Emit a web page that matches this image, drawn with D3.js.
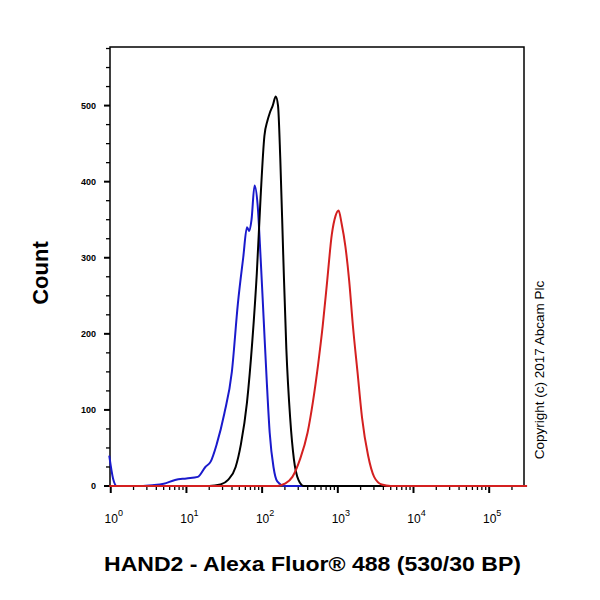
<!DOCTYPE html><html><head><script src="https://cdn.jsdelivr.net/npm/d3@7"></script>
<style>body{margin:0;background:#fff}</style></head><body><svg id="c" width="600" height="600"></svg><script>
// log10 intensity positions and counts
const blueX=[-0.02,0.03,0.08,0.2,0.4,0.55,0.7,0.85,1.0,1.15,1.25,1.32,1.4,1.5,1.6,1.68,1.75,1.8,1.83,1.86,1.9,1.94,1.98,2.02,2.06,2.1,2.15,2.2,2.3,2.6,5.5];
const blueY=[40,10,0,0,0,1,3,8,10,12,25,32,55,95,150,240,300,340,335,350,395,370,300,220,140,70,25,6,0,0,0];
const blackX=[-0.02,1.3,1.45,1.55,1.65,1.72,1.8,1.87,1.93,1.98,2.03,2.07,2.1,2.14,2.18,2.21,2.24,2.28,2.32,2.37,2.42,2.48,2.55,5.5];
const blackY=[0,0,2,8,25,55,110,190,280,380,460,480,490,500,512,500,430,300,180,90,35,8,0,0];
const redX=[-0.02,2.2,2.3,2.4,2.5,2.6,2.67,2.74,2.8,2.86,2.92,2.97,3.01,3.05,3.1,3.15,3.2,3.26,3.32,3.4,3.48,3.58,3.7,5.5];
const redY=[0,0,3,12,35,70,110,160,210,270,330,355,362,345,315,270,210,150,90,40,12,2,0,0];
const yTicks=[0,100,200,300,400,500];
const xExp=[0,1,2,3,4,5];
const svg=d3.select("#c");
const L=110,R=524,T=47,B=486;
const x=d3.scaleLinear().domain([-0.01,5.46]).range([L,R]);
const y=d3.scaleLinear().domain([0,577]).range([B,T]);
svg.append("rect").attr("x",L).attr("y",T).attr("width",R-L).attr("height",B-T).attr("fill","none").attr("stroke","#000").attr("stroke-width",1.5);
const g=svg.append("g");
d3.range(0,576,25).forEach(v=>{const maj=v%100===0;g.append("line").attr("x1",L-(maj?6:4)).attr("x2",L).attr("y1",y(v)).attr("y2",y(v)).attr("stroke","#000").attr("stroke-width",maj?2:1.3);});
yTicks.forEach(v=>g.append("text").attr("x",L-14).attr("y",y(v)+3).attr("text-anchor","end").attr("font-family","Arial, Liberation Sans").attr("font-weight","bold").attr("font-size",9).text(v));
for(let e=0;e<=5;e++){for(let m=1;m<=9;m++){const lv=e+Math.log10(m);if(lv>5.46)continue;const maj=m===1;g.append("line").attr("x1",x(lv)).attr("x2",x(lv)).attr("y1",B).attr("y2",B+(maj?7:4)).attr("stroke","#000").attr("stroke-width",maj?2:1.3);}}
xExp.forEach(e=>{const t=g.append("text").attr("x",x(e)+3).attr("y",B+37).attr("text-anchor","middle").attr("font-family","Arial, Liberation Sans").attr("font-size",12);t.append("tspan").text("10");t.append("tspan").attr("dy",-7).attr("font-size",9).text(e);});
const line=d3.line().x(d=>x(d[0])).y(d=>y(d[1])).curve(d3.curveMonotoneX);
[[blueX,blueY,"#1a1acc"],[blackX,blackY,"#000"],[redX,redY,"#d42020"]].forEach(([X,Y,c])=>{svg.append("path").attr("d",line(X.map((v,i)=>[v,Y[i]]))).attr("fill","none").attr("stroke",c).attr("stroke-width",2);});
svg.append("text").attr("transform","translate(48,273) rotate(-90)").attr("text-anchor","middle").attr("font-family","Arial, Liberation Sans").attr("font-weight","bold").attr("font-size",22).text("Count");
svg.append("text").attr("x",104).attr("y",571).attr("textLength",417).attr("lengthAdjust","spacingAndGlyphs").attr("font-family","Arial, Liberation Sans").attr("font-weight","bold").attr("font-size",20).text("HAND2 - Alexa Fluor® 488 (530/30 BP)");
svg.append("text").attr("transform","translate(544,370) rotate(-90)").attr("text-anchor","middle").attr("font-family","Arial, Liberation Sans").attr("font-size",13.5).text("Copyright (c) 2017 Abcam Plc");
</script></body></html>
